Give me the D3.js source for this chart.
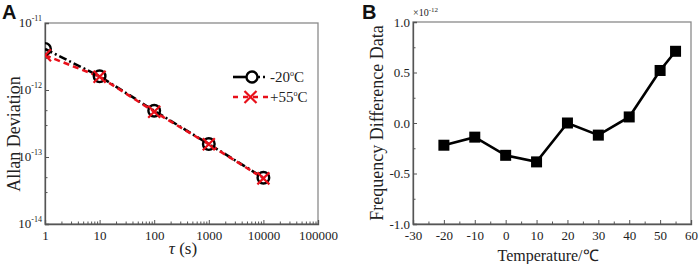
<!DOCTYPE html>
<html><head><meta charset="utf-8">
<script src="https://cdn.jsdelivr.net/npm/d3@7"></script>
<style>body{margin:0;background:#fff}svg{display:block}</style>
</head><body>
<svg id="c" width="699" height="264"></svg>
<script>
// Panel A data
const tau = [1, 10, 100, 1000, 10000];
const adevM20 = [4.1e-12, 1.6e-12, 4.9e-13, 1.56e-13, 4.9e-14];
const adevP55 = [3.3e-12, 1.58e-12, 4.75e-13, 1.55e-13, 4.8e-14];
const xTicksA = [1, 10, 100, 1000, 10000, 100000];
const yTicksAExp = [-14, -13, -12, -11];
// Panel B data
const temps = [-20, -10, 0, 10, 20, 30, 40, 50, 55];
const freqDiff = [-0.22, -0.14, -0.32, -0.385, 0.0, -0.12, 0.06, 0.52, 0.71];
const xTicksB = [-30, -20, -10, 0, 10, 20, 30, 40, 50, 60];
const yTicksB = [-1.0, -0.5, 0.0, 0.5, 1.0];

const SERIF = "'Liberation Serif','Times New Roman',serif";
const SANS = "'Liberation Sans',Arial,sans-serif";
const svg = d3.select("#c").style("font-family", SERIF);
const axisCol = "#555", frameCol = "#8a8a8a";
const hy = s => String(s).replace(/\u2212/g, "-");

function styleAxis(ax){
  ax.attr("font-family", SERIF).style("font-family", SERIF);
  ax.select(".domain").attr("stroke",axisCol).attr("stroke-width",1.3);
  ax.selectAll(".tick line").attr("stroke",axisCol);
  ax.selectAll(".tick text").attr("font-size",13).attr("fill","#222").style("font-family", SERIF);
}

// ---------- Panel A ----------
const A = {l:45, r:318, t:23, b:224};
const xA = d3.scaleLog().domain([1,1e5]).range([A.l, A.r]);
const yA = d3.scaleLog().domain([1e-14,1e-11]).range([A.b, A.t]);
const gA = svg.append("g");
gA.append("rect").attr("x",A.l).attr("y",A.t).attr("width",A.r-A.l).attr("height",A.b-A.t)
  .attr("fill","none").attr("stroke",frameCol).attr("stroke-width",1.3);
const minorX = [];
for (let d=1; d<1e5; d*=10) for (let k=2;k<=9;k++) minorX.push(d*k);
const bx = gA.append("g").attr("transform",`translate(0,${A.b})`)
  .call(d3.axisBottom(xA).tickValues(xTicksA).tickSize(-4).tickFormat(d3.format("d")).tickPadding(7));
styleAxis(bx);
gA.append("g").attr("transform",`translate(0,${A.b})`)
  .call(d3.axisBottom(xA).tickValues(minorX).tickSize(-2.5).tickFormat(""))
  .call(g=>{g.select(".domain").remove(); g.selectAll("line").attr("stroke",axisCol);});
const minorY = [];
for (let d=1e-14; d<1e-11*0.99; d*=10) for (let k=2;k<=9;k++) minorY.push(d*k);
const ly = gA.append("g").attr("transform",`translate(${A.l},0)`)
  .call(d3.axisLeft(yA).tickValues(yTicksAExp.map(e=>Math.pow(10,e))).tickSize(-4).tickFormat(""));
styleAxis(ly);
gA.append("g").attr("transform",`translate(${A.l},0)`)
  .call(d3.axisLeft(yA).tickValues(minorY.filter((v,i)=>[1,3].includes(i%8))).tickSize(-2.5).tickFormat(""))
  .call(g=>{g.select(".domain").remove(); g.selectAll("line").attr("stroke",axisCol);});
yTicksAExp.forEach(e=>{
  const t = gA.append("text").attr("x",A.l-3).attr("y",yA(Math.pow(10,e))+4)
    .attr("text-anchor","end").attr("font-size",13).attr("fill","#222");
  t.append("tspan").text("10");
  t.append("tspan").attr("dy",-6).attr("font-size",8).text(hy(e));
});
gA.append("text").attr("transform",`translate(20,134) rotate(-90)`)
  .attr("text-anchor","middle").attr("font-size",18).attr("fill","#222").text("Allan Deviation");
const xl = gA.append("text").attr("x",183).attr("y",254).attr("text-anchor","middle").attr("font-size",17).attr("fill","#222");
xl.append("tspan").attr("font-style","italic").text("τ");
xl.append("tspan").text(" (s)");
svg.append("defs").append("clipPath").attr("id","clipA").append("rect")
  .attr("x",A.l).attr("y",A.t).attr("width",A.r-A.l).attr("height",A.b-A.t);
const line = d3.line().x(d=>xA(d[0])).y(d=>yA(d[1]));
const dataM = tau.map((t,i)=>[t,adevM20[i]]);
const dataP = tau.map((t,i)=>[t,adevP55[i]]);
const sg = gA.append("g").attr("clip-path","url(#clipA)");
sg.append("path").datum(dataM).attr("d",line).attr("fill","none").attr("stroke","#000")
  .attr("stroke-width",2.6).attr("stroke-dasharray","8,3,2,3");
sg.append("path").datum(dataP).attr("d",line).attr("fill","none").attr("stroke","#e8101a")
  .attr("stroke-width",2.6).attr("stroke-dasharray","6,4");
sg.selectAll("circle.m").data(dataM).join("circle").attr("cx",d=>xA(d[0])).attr("cy",d=>yA(d[1]))
  .attr("r",5.8).attr("fill","none").attr("stroke","#000").attr("stroke-width",2.4);
const cross = (g, cx, cy, s) => {
  g.append("path").attr("d",`M${cx-s},${cy-s}L${cx+s},${cy+s}M${cx-s},${cy+s}L${cx+s},${cy-s}`)
    .attr("stroke","#e8101a").attr("stroke-width",2.2).attr("fill","none");
};
dataP.forEach(d=>cross(sg, xA(d[0]), yA(d[1]), 6));
// legend
const lg = gA.append("g");
lg.append("line").attr("x1",233).attr("x2",246).attr("y1",77).attr("y2",77).attr("stroke","#000").attr("stroke-width",2.6);
lg.append("line").attr("x1",258).attr("x2",268).attr("y1",77).attr("y2",77).attr("stroke","#000").attr("stroke-width",2.4).attr("stroke-dasharray","2,3");
lg.append("circle").attr("cx",252).attr("cy",77).attr("r",5.5).attr("fill","none").attr("stroke","#000").attr("stroke-width",2.4);
lg.append("line").attr("x1",233).attr("x2",268).attr("y1",97).attr("y2",97).attr("stroke","#e8101a").attr("stroke-width",2.6).attr("stroke-dasharray","5,5");
cross(lg, 250.5, 97, 6);
const legT = (y, s) => {
  const t = lg.append("text").attr("x",270).attr("y",y+5).attr("font-size",15).attr("fill","#222");
  t.append("tspan").text(s);
  t.append("tspan").attr("dy",-6).attr("font-size",8).text("o");
  t.append("tspan").attr("dy",6).text("C");
};
legT(77,"-20");
legT(97,"+55");
svg.append("text").attr("x",2).attr("y",19).style("font-family",SANS)
  .attr("font-weight","bold").attr("font-size",20).attr("fill","#111").text("A");

// ---------- Panel B ----------
const B = {l:413, r:691, t:22, b:224};
const xB = d3.scaleLinear().domain([-30,60]).range([B.l,B.r]);
const yB = d3.scaleLinear().domain([-1,1]).range([B.b,B.t]);
const gB = svg.append("g");
gB.append("rect").attr("x",B.l).attr("y",B.t).attr("width",B.r-B.l).attr("height",B.b-B.t)
  .attr("fill","none").attr("stroke",frameCol).attr("stroke-width",1.3);
const bxB = gB.append("g").attr("transform",`translate(0,${B.b})`)
  .call(d3.axisBottom(xB).tickValues(xTicksB).tickSize(-4).tickPadding(7).tickFormat(d=>hy(d3.format("d")(d))));
styleAxis(bxB);
gB.append("g").attr("transform",`translate(0,${B.b})`)
  .call(d3.axisBottom(xB).tickValues(xTicksB.slice(0,-1).map(v=>v+5)).tickSize(-2.5).tickFormat(""))
  .call(g=>{g.select(".domain").remove(); g.selectAll("line").attr("stroke",axisCol);});
const lyB = gB.append("g").attr("transform",`translate(${B.l},0)`)
  .call(d3.axisLeft(yB).tickValues(yTicksB).tickSize(-4).tickPadding(3).tickFormat(d=>hy(d3.format(".1f")(d))));
styleAxis(lyB);
gB.append("g").attr("transform",`translate(${B.l},0)`)
  .call(d3.axisLeft(yB).tickValues(yTicksB.slice(0,-1).map(v=>v+0.25)).tickSize(-2.5).tickFormat(""))
  .call(g=>{g.select(".domain").remove(); g.selectAll("line").attr("stroke",axisCol);});
const mult = gB.append("text").attr("x",413).attr("y",16).attr("font-size",10).attr("fill","#222");
mult.append("tspan").text("×10");
mult.append("tspan").attr("dy",-4).attr("font-size",7).text("-12");
gB.append("text").attr("transform",`translate(383,${(B.t+B.b)/2}) rotate(-90)`)
  .attr("text-anchor","middle").attr("font-size",18).attr("fill","#222").text("Frequency Difference Data");
gB.append("text").attr("x",548).attr("y",261).attr("text-anchor","middle").attr("font-size",16).attr("fill","#222").text("Temperature/℃");
const dataB = temps.map((t,i)=>[t,freqDiff[i]]);
gB.append("path").datum(dataB).attr("d",d3.line().x(d=>xB(d[0])).y(d=>yB(d[1])))
  .attr("fill","none").attr("stroke","#000").attr("stroke-width",2.6);
const sq = 11;
gB.selectAll("rect.pt").data(dataB).join("rect").attr("class","pt")
  .attr("x",d=>xB(d[0])-sq/2).attr("y",d=>yB(d[1])-sq/2).attr("width",sq).attr("height",sq).attr("fill","#000");
svg.append("text").attr("x",362).attr("y",19).style("font-family",SANS)
  .attr("font-weight","bold").attr("font-size",20).attr("fill","#111").text("B");
</script>
</body></html>
